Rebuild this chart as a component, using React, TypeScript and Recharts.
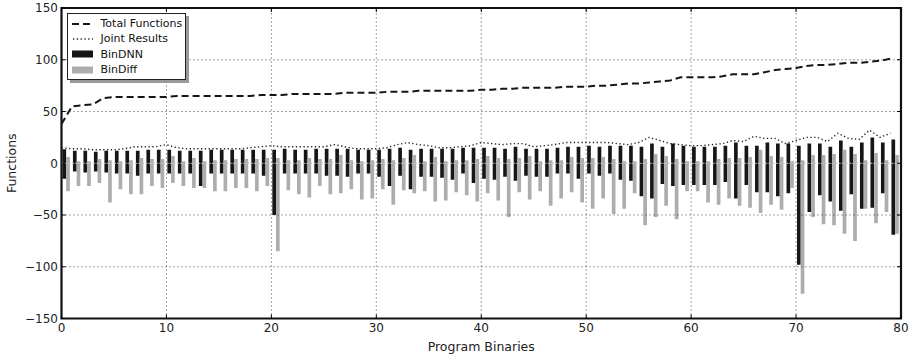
import React from 'react';
import {
  ComposedChart, Bar, Line, XAxis, YAxis, ReferenceLine, ReferenceArea, Legend,
} from 'recharts';

// ---------- data ----------
const binaries: number[] = Array.from({ length: 80 }, (_, i) => i);

const totalFunctions = [
  38, 55, 56, 57, 63, 64, 64, 64, 64, 64,
  64, 65, 65, 65, 65, 65, 65, 65, 65, 66,
  66, 66, 67, 67, 67, 67, 67, 68, 68, 68,
  68, 69, 69, 69, 70, 70, 70, 70, 70, 70,
  71, 71, 72, 72, 73, 73, 73, 73, 74, 74,
  74, 75, 75, 76, 77, 77, 78, 79, 80, 83,
  83, 83, 83, 84, 86, 86, 86, 88, 90, 91,
  92, 94, 95, 95, 96, 97, 97, 98, 99, 101,
];

const jointResults = [
  15, 14, 14, 13, 13, 13, 14, 16, 16, 16,
  18, 15, 14, 14, 14, 14, 14, 14, 15, 16,
  17, 16, 16, 16, 16, 16, 18, 16, 14, 14,
  14, 15, 18, 20, 18, 17, 15, 15, 16, 17,
  20, 19, 18, 19, 19, 16, 17, 18, 20, 20,
  20, 20, 20, 19, 18, 20, 25, 22, 19, 18,
  17, 17, 18, 19, 22, 21, 26, 24, 24, 19,
  22, 25, 25, 21, 29, 24, 23, 32, 25, 29,
];

const binDnnPos = [
  13.5, 12, 12, 11, 12, 12, 12, 12, 13, 13,
  13, 12, 12, 12, 13, 13, 13, 13, 13, 13,
  13, 14, 13, 13, 14, 14, 14, 14, 13, 13,
  13, 14, 15, 13, 14, 14, 14, 14, 15, 15,
  15, 15, 14, 16, 14, 14, 14, 15, 16, 16,
  17, 16, 17, 17, 17, 16, 19, 16, 19, 17,
  16, 16, 16, 17, 20, 17, 17, 20, 19, 19,
  17, 19, 19, 16, 22, 16, 20, 25, 20, 23,
];

const binDnnNeg = [
  -15, -8, -9, -8, -9, -10, -10, -12, -10, -10,
  -10, -10, -10, -22, -10, -10, -10, -10, -10, -12,
  -50, -10, -10, -10, -10, -12, -12, -13, -10, -10,
  -13, -22, -12, -25, -13, -13, -14, -16, -10, -19,
  -15, -16, -13, -17, -12, -13, -13, -10, -10, -15,
  -10, -12, -10, -16, -17, -32, -34, -20, -22, -21,
  -21, -21, -21, -18, -34, -21, -28, -28, -32, -29,
  -98, -47, -31, -37, -46, -30, -44, -43, -29, -69,
];

const binDiffPos = [
  6, 2, 2, 4, 3, 2, 3, 5, 4, 4,
  7, 2, 5, 2, 3, 3, 4, 4, 4, 5,
  5, 3, 3, 5, 4, 4, 8, 3, 2, 3,
  4, 3, 5, 8, 2, 6, 2, 3, 3, 4,
  7, 5, 4, 5, 7, 2, 3, 3, 6, 5,
  5, 6, 4, 2, 2, 4, 9, 7, 4, 2,
  2, 2, 4, 5, 5, 6, 13, 7, 6, 2,
  3, 8, 8, 9, 13, 9, 3, 10, 3, 8,
];

const binDiffNeg = [
  -27, -22, -22, -19, -38, -25, -30, -30, -22, -24,
  -19, -22, -24, -24, -27, -27, -24, -24, -27, -22,
  -85, -26, -30, -33, -22, -30, -29, -25, -35, -34,
  -25, -40, -26, -29, -27, -37, -36, -28, -31, -37,
  -29, -36, -52, -28, -35, -27, -41, -34, -28, -38,
  -44, -34, -49, -44, -29, -60, -52, -41, -54, -27,
  -27, -38, -40, -34, -41, -43, -48, -40, -45, -24,
  -126, -52, -59, -60, -68, -75, -44, -58, -47, -68,
];

const xTicks = [0, 10, 20, 30, 40, 50, 60, 70, 80];
const yTicks = [-150, -100, -50, 0, 50, 100, 150];
const xGrid = [10, 20, 30, 40, 50, 60, 70];
const yGrid = [-100, -50, 50, 100];

const SERIES = {
  total: 'Total Functions',
  joint: 'Joint Results',
  dnn: 'BinDNN',
  diff: 'BinDiff',
};

// ---------- layout ----------
const W = 916;
const H = 357;
const PLOT_LEFT = 61.5;
const PLOT_RIGHT = 901;
const PLOT_TOP = 8;
const PLOT_BOTTOM = 318.5;
const Y_AXIS_W = 50;
const X_AXIS_H = 30;
const BAR_W = 3.68;
const BAR_SHIFT = 0.4; // pair placed right of each binary index (edge-aligned)

const FONT = '"DejaVu Sans", Verdana, sans-serif';
const BLACK = '#161616';
const GRAY = '#adadad';

const barData = binaries.map((b, i) => ({
  x: b + BAR_SHIFT,
  dnnPos: binDnnPos[i],
  dnnNeg: binDnnNeg[i],
  diffPos: binDiffPos[i],
  diffNeg: binDiffNeg[i],
}));

const lineData = binaries.map((b, i) => ({
  x: b,
  total: totalFunctions[i],
  joint: jointResults[i],
}));

const fmt = (v: number) => (v < 0 ? '\u2212' + Math.abs(v) : String(v));

const XTick = (props: any) => {
  const { x, payload } = props;
  return (
    <g>
      <line x1={x} x2={x} y1={PLOT_BOTTOM} y2={PLOT_BOTTOM - 4} stroke="#000" strokeWidth={1} />
      <line x1={x} x2={x} y1={PLOT_TOP} y2={PLOT_TOP + 4} stroke="#000" strokeWidth={1} />
      <text x={x} y={PLOT_BOTTOM + 13.5} textAnchor="middle" fontSize={12} fill="#222" fontFamily={FONT}>
        {fmt(payload.value)}
      </text>
    </g>
  );
};

const YTick = (props: any) => {
  const { y, payload } = props;
  return (
    <g>
      <line x1={PLOT_LEFT} x2={PLOT_LEFT + 4} y1={y} y2={y} stroke="#000" strokeWidth={1} />
      <line x1={PLOT_RIGHT} x2={PLOT_RIGHT - 4} y1={y} y2={y} stroke="#000" strokeWidth={1} />
      <text x={PLOT_LEFT - 3.5} y={y + 4.3} textAnchor="end" fontSize={12} fill="#222" fontFamily={FONT}>
        {fmt(payload.value)}
      </text>
    </g>
  );
};

const legendItems = [
  { name: SERIES.total, kind: 'dash' },
  { name: SERIES.joint, kind: 'dot' },
  { name: SERIES.dnn, kind: 'rect', color: BLACK },
  { name: SERIES.diff, kind: 'rect', color: GRAY },
];

const renderLegend = () => (
  <div
    style={{
      width: 119,
      height: 67,
      boxSizing: 'border-box',
      background: '#fff',
      border: '1px solid #222',
      boxShadow: '3px 3px 0 #9a9a9a',
      fontFamily: FONT,
      fontSize: 11,
      color: '#111',
      paddingTop: 2,
    }}
  >
    {legendItems.map((it) => (
      <div key={it.name} style={{ height: 15.3, display: 'flex', alignItems: 'center', whiteSpace: 'nowrap' }}>
        <svg width={21} height={10} style={{ marginLeft: 4, marginRight: 8, flex: 'none' }}>
          {it.kind === 'dash' && (
            <line x1={0} x2={21} y1={5} y2={5} stroke={BLACK} strokeWidth={2} strokeDasharray="7 4" />
          )}
          {it.kind === 'dot' && (
            <line x1={1} x2={21} y1={5} y2={5} stroke="#222" strokeWidth={1.3} strokeDasharray="1.3 2.5" />
          )}
          {it.kind === 'rect' && <rect x={0} y={1.5} width={21} height={7} fill={it.color} />}
        </svg>
        <span>{it.name}</span>
      </div>
    ))}
  </div>
);

export default function App() {
  return (
    <div style={{ position: 'absolute', left: 0, top: 0, width: W, height: H, background: '#fff' }}>
      <ComposedChart
        width={W}
        height={H}
        data={barData}
        stackOffset="sign"
        barGap={0}
        margin={{
          top: PLOT_TOP,
          right: W - PLOT_RIGHT,
          bottom: H - PLOT_BOTTOM - X_AXIS_H,
          left: PLOT_LEFT - Y_AXIS_W,
        }}
        style={{ fontFamily: FONT }}
      >
        <XAxis
          dataKey="x"
          type="number"
          domain={[0, 80]}
          ticks={xTicks}
          allowDataOverflow
          height={X_AXIS_H}
          axisLine={false}
          tickLine={false}
          tick={XTick}
          interval={0}
          label={{
            content: () => (
              <text x={(PLOT_LEFT + PLOT_RIGHT) / 2} y={351} textAnchor="middle" fontSize={12.5} fill="#222" fontFamily={FONT}>
                Program Binaries
              </text>
            ),
          }}
        />
        <XAxis
          xAxisId="line"
          dataKey="x"
          type="number"
          domain={[0, 80]}
          allowDataOverflow
          hide
        />
        <YAxis
          type="number"
          domain={[-150, 150]}
          ticks={yTicks}
          allowDataOverflow
          width={Y_AXIS_W}
          axisLine={false}
          tickLine={false}
          tick={YTick}
          interval={0}
          label={{
            content: () => (
              <text
                x={15.5}
                y={(PLOT_TOP + PLOT_BOTTOM) / 2}
                transform={`rotate(-90 15.5 ${(PLOT_TOP + PLOT_BOTTOM) / 2})`}
                textAnchor="middle"
                fontSize={12.5}
                fill="#222"
                fontFamily={FONT}
              >
                Functions
              </text>
            ),
          }}
        />
        <Bar dataKey="dnnPos" name={SERIES.dnn} stackId="dnn" fill={BLACK} barSize={BAR_W} isAnimationActive={false} />
        <Bar dataKey="dnnNeg" name={SERIES.dnn} stackId="dnn" fill={BLACK} barSize={BAR_W} isAnimationActive={false} />
        <Bar dataKey="diffPos" name={SERIES.diff} stackId="diff" fill={GRAY} barSize={BAR_W} isAnimationActive={false} />
        <Bar dataKey="diffNeg" name={SERIES.diff} stackId="diff" fill={GRAY} barSize={BAR_W} isAnimationActive={false} />
        <Line
          xAxisId="line"
          data={lineData}
          dataKey="total"
          name={SERIES.total}
          type="linear"
          stroke={BLACK}
          strokeWidth={2}
          strokeDasharray="7 4"
          dot={false}
          activeDot={false}
          isAnimationActive={false}
        />
        <Line
          xAxisId="line"
          data={lineData}
          dataKey="joint"
          name={SERIES.joint}
          type="linear"
          stroke="#222"
          strokeWidth={1.4}
          strokeDasharray="1.3 2.5"
          dot={false}
          activeDot={false}
          isAnimationActive={false}
        />
        {xGrid.map((v) => (
          <ReferenceLine key={'gx' + v} x={v} stroke="#333" strokeWidth={0.9} strokeDasharray="1 3" />
        ))}
        {yGrid.map((v) => (
          <ReferenceLine key={'gy' + v} y={v} stroke="#333" strokeWidth={0.9} strokeDasharray="1 3" />
        ))}
        <ReferenceLine y={0} stroke="#bdbdbd" strokeWidth={1.2} strokeDasharray="2 1.5" />
        <ReferenceArea x1={0} x2={80} y1={-150} y2={150} fill="none" fillOpacity={0} stroke="#111" strokeWidth={2.2} />
        <Legend
          layout="vertical"
          align="center"
          verticalAlign="middle"
          content={renderLegend}
          wrapperStyle={{ position: 'absolute', left: 66.5, top: 13, width: 119, height: 67, margin: 0 }}
        />
      </ComposedChart>
    </div>
  );
}
